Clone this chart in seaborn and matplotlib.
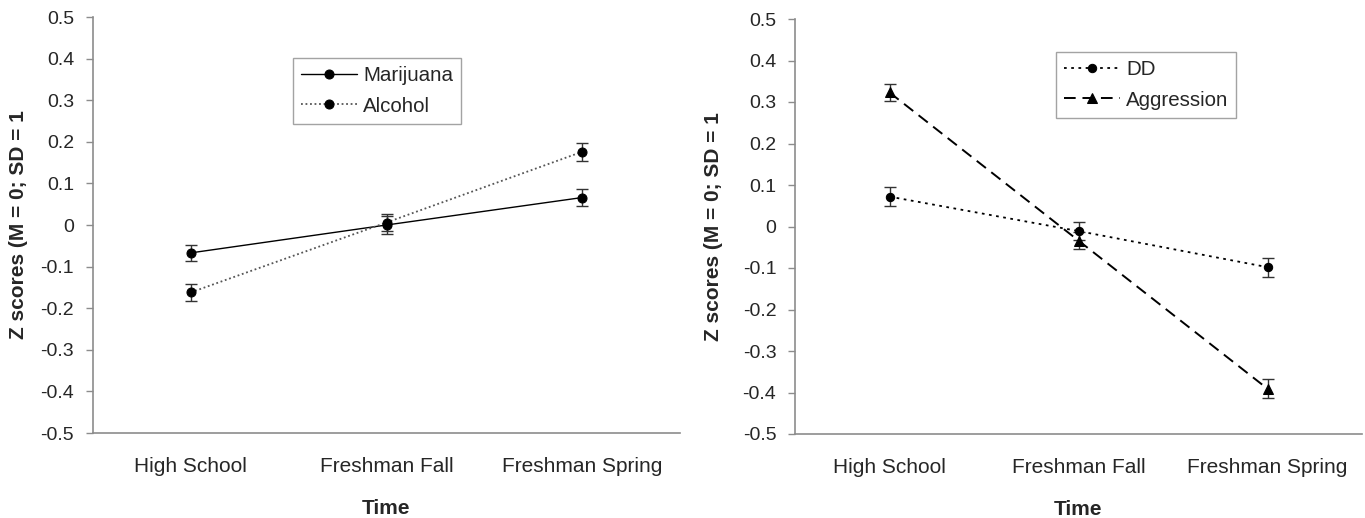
import matplotlib
matplotlib.use("Agg")
import matplotlib.pyplot as plt
import seaborn as sns
import pandas as pd

times = ["High School", "Freshman Fall", "Freshman Spring"]

marijuana = [-0.067, 0.000, 0.066]
marijuana_err = [0.020, 0.022, 0.020]
alcohol = [-0.162, 0.006, 0.176]
alcohol_err = [0.021, 0.020, 0.021]

dd = [0.072, -0.011, -0.098]
dd_err = [0.023, 0.021, 0.023]
aggression = [0.323, -0.034, -0.391]
aggression_err = [0.021, 0.020, 0.023]

yticks = [0.5, 0.4, 0.3, 0.2, 0.1, 0, -0.1, -0.2, -0.3, -0.4, -0.5]
ytick_labels = ["0.5", "0.4", "0.3", "0.2", "0.1", "0", "-0.1", "-0.2", "-0.3", "-0.4", "-0.5"]
ylabel = "Z scores (M = 0; SD = 1"
xlabel = "Time"

sns.set_style("white")
plt.rcParams['font.family'] = ['Liberation Sans', 'DejaVu Sans']

W, H = 1365, 518
fig = plt.figure(figsize=(W / 100, H / 100), dpi=100)
ax1 = fig.add_axes([93/W, 1-433/H, (680-93)/W, (433-17)/H])
ax2 = fig.add_axes([795/W, 1-434/H, (1362-795)/W, (434-19)/H])

spine_col = "#8c8c8c"


def draw_series(ax, vals, errs, name, marker, color, lw, ms, dashes=None):
    df = pd.DataFrame({"Time": times, "z": vals})
    sns.lineplot(data=df, x="Time", y="z", ax=ax, color=color, linewidth=lw,
                 marker=marker, markersize=ms, markeredgecolor="black",
                 markerfacecolor="black", label=name, sort=False)
    line = ax.get_lines()[-1]
    if dashes is not None:
        line.set_dashes(dashes)
    ax.errorbar(times, vals, yerr=errs, fmt="none", ecolor="#333333",
                elinewidth=1.0, capsize=4, capthick=1.0, zorder=1)


def style_axes(ax, ylabel_x, leg_left, leg_top, ax_left, ax_top, ax_w, ax_h):
    ax.set_ylim(-0.5, 0.5)
    ax.set_xlim(-0.5, 2.5)
    ax.set_yticks(yticks)
    ax.set_yticklabels(ytick_labels)
    ax.set_xticks([-0.5, 0.5, 1.5, 2.5])
    ax.set_xticklabels([])
    ax.set_xticks([0, 1, 2], minor=True)
    ax.set_xticklabels(times, minor=True)
    ax.tick_params(axis="x", which="major", direction="out", length=6,
                   color=spine_col, width=1)
    ax.tick_params(axis="x", which="minor", length=0, pad=17, labelsize=15)
    ax.tick_params(axis="y", direction="out", length=5, color=spine_col,
                   width=1, pad=8.5, labelsize=14, left=True)
    for s in ["top", "right"]:
        ax.spines[s].set_visible(False)
    for s in ["left", "bottom"]:
        ax.spines[s].set_color(spine_col)
        ax.spines[s].set_linewidth(1.2)
    ax.set_xlabel(xlabel, fontsize=15, fontweight="bold")
    ax.xaxis.set_label_coords(0.5, -0.158)
    ax.set_ylabel(ylabel, fontsize=15, fontweight="bold")
    ax.yaxis.set_label_coords(ylabel_x, 0.5)
    leg = ax.legend(loc="upper left",
                    bbox_to_anchor=((leg_left - ax_left) / ax_w, (ax_h - (leg_top - ax_top)) / ax_h),
                    frameon=True, fancybox=False, edgecolor=spine_col, fontsize=14.8,
                    handlelength=2.7, handletextpad=0.3, borderpad=0.4,
                    labelspacing=0.55, borderaxespad=0)
    leg.get_frame().set_linewidth(1.0)


draw_series(ax1, marijuana, marijuana_err, "Marijuana", "o", "black", 1.0, 6.5)
draw_series(ax1, alcohol, alcohol_err, "Alcohol", "o", "#555555", 1.3, 6.5,
            dashes=(1, 1.5))
style_axes(ax1, -0.111, 293, 58, 93, 17, 587, 416)

draw_series(ax2, dd, dd_err, "DD", "o", "black", 1.3, 6, dashes=(1.5, 2.5))
draw_series(ax2, aggression, aggression_err, "Aggression", "^", "black", 1.4, 6.5,
            dashes=(6, 3.5))
style_axes(ax2, -0.127, 1056, 52, 795, 19, 567, 415)

fig.savefig("out.png", dpi=100)
